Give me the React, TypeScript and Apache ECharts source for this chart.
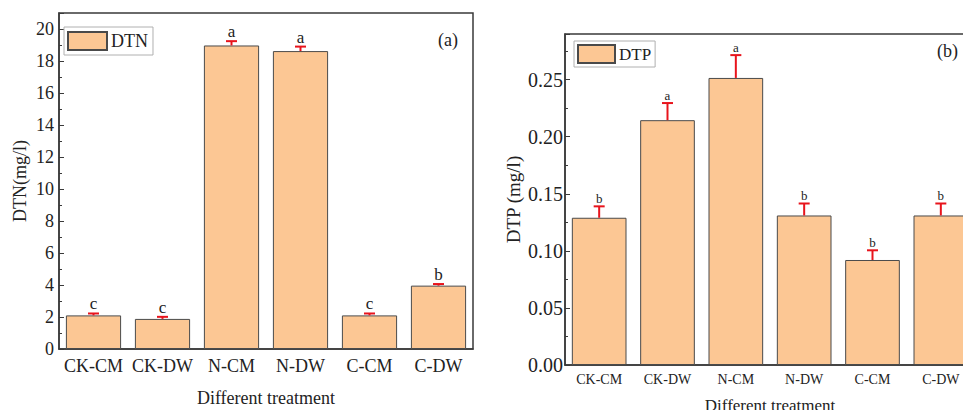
import React, { useEffect, useRef } from "react";
import * as echarts from "echarts";

const categories = ["CK-CM", "CK-DW", "N-CM", "N-DW", "C-CM", "C-DW"];
const dtnValues = [2.1, 1.88, 18.97, 18.62, 2.1, 3.96];
const dtnErrors = [0.12, 0.13, 0.27, 0.28, 0.12, 0.1];
const dtnLetters = ["c", "c", "a", "a", "c", "b"];
const dtpValues = [0.129, 0.2145, 0.2515, 0.131, 0.092, 0.131];
const dtpErrors = [0.01, 0.015, 0.02, 0.0105, 0.0085, 0.0105];
const dtpLetters = ["b", "a", "a", "b", "b", "b"];

const FONT = "Liberation Serif, serif";
const BAR_COLOR = "#FCC794";
const BAR_BORDER = "#4a4a4a";
const AXIS_COLOR = "#3a3a3a";

function errorSeries(values: number[], errors: number[], letters: string[], idx: number, fontSize: number) {
  return {
    type: "custom",
    xAxisIndex: idx,
    yAxisIndex: idx,
    z: 5,
    data: values.map((v, i) => [i, v, errors[i], letters[i]]),
    renderItem: (params: any, api: any) => {
      const i = api.value(0);
      const v = api.value(1);
      const e = api.value(2);
      const base = api.coord([i, v]);
      const top = api.coord([i, v + e]);
      const half = 5.5;
      return {
        type: "group",
        children: [
          {
            type: "line",
            shape: { x1: base[0], y1: base[1], x2: top[0], y2: top[1] },
            style: { stroke: "#e8141c", lineWidth: 2 },
          },
          {
            type: "line",
            shape: { x1: top[0] - half, y1: top[1], x2: top[0] + half, y2: top[1] },
            style: { stroke: "#e8141c", lineWidth: 2 },
          },
          {
            type: "text",
            style: {
              text: letters[i],
              x: top[0],
              y: top[1] - 1,
              align: "center",
              verticalAlign: "bottom",
              fontSize,
              fontFamily: FONT,
              fill: "#222",
            },
          },
        ],
      };
    },
  };
}

export default function App() {
  const ref = useRef<HTMLDivElement>(null);
  useEffect(() => {
    if (!ref.current) return;
    const chart = echarts.init(ref.current, null, { renderer: "svg" });
    const yAxisCommon = (max: number, interval: number, labelSize: number, name: string, nameSize: number, nameGap: number, labelMargin: number, idx: number) => ({
      type: "value",
      gridIndex: idx,
      min: 0,
      max,
      interval,
      name,
      nameLocation: "middle",
      nameGap,
      nameTextStyle: { fontFamily: FONT, fontSize: nameSize, color: "#222" },
      axisLine: { show: true, lineStyle: { color: AXIS_COLOR, width: 1.5 } },
      axisTick: { show: true, inside: true, length: 5, lineStyle: { color: AXIS_COLOR } },
      minorTick: { show: true, splitNumber: 2, length: 3, lineStyle: { color: AXIS_COLOR } },
      splitLine: { show: false },
      axisLabel: {
        showMaxLabel: false,
        margin: labelMargin,
        fontFamily: FONT,
        fontSize: labelSize,
        color: "#222",
        formatter: (v: number) => (idx === 1 ? v.toFixed(2) : String(v)),
      },
    });
    const xAxisCommon = (labelSize: number, nameSize: number, nameGap: number, margin: number, idx: number) => ({
      type: "category",
      gridIndex: idx,
      data: categories,
      name: "Different treatment",
      nameLocation: "middle",
      nameGap,
      nameTextStyle: { fontFamily: FONT, fontSize: nameSize, color: "#222" },
      axisLine: { show: true, lineStyle: { color: AXIS_COLOR, width: 1.5 } },
      axisTick: { show: false },
      axisLabel: { fontFamily: FONT, fontSize: labelSize, color: "#222", margin, interval: 0 },
    });
    chart.setOption({
      animation: false,
      backgroundColor: "#fff",
      textStyle: { fontFamily: FONT },
      grid: [
        { left: 59, top: 13, width: 414, height: 336, outerBoundsMode: "none", containLabel: false, show: true, borderColor: AXIS_COLOR, borderWidth: 1.5, backgroundColor: "transparent" },
        { left: 565, top: 34, width: 410, height: 331, outerBoundsMode: "none", containLabel: false, show: true, borderColor: AXIS_COLOR, borderWidth: 1.5, backgroundColor: "transparent" },
      ],
      xAxis: [xAxisCommon(18, 18, 40, 8, 0), xAxisCommon(14, 17, 32, 7, 1)],
      yAxis: [
        yAxisCommon(21, 2, 18, "DTN(mg/l)", 18, 30, 5, 0),
        yAxisCommon(0.29, 0.05, 20, "DTP (mg/l)", 19, 42, 2, 1),
      ],
      legend: [
        {
          data: ["DTN"],
          left: 64,
          top: 27,
          orient: "vertical",
          padding: [4, 5, 4, 3],
          borderColor: "#b0b0b0",
          borderWidth: 1,
          itemWidth: 39,
          itemHeight: 18,
          itemGap: 4,
          icon: "rect",
          textStyle: { fontFamily: FONT, fontSize: 18, color: "#222", padding: [0, 0, 0, -1] },
        },
        {
          data: ["DTP"],
          left: 574,
          top: 41,
          orient: "vertical",
          padding: [3, 4, 3, 3],
          borderColor: "#b0b0b0",
          borderWidth: 1,
          itemWidth: 37,
          itemHeight: 18,
          itemGap: 4,
          icon: "rect",
          textStyle: { fontFamily: FONT, fontSize: 17, color: "#222", padding: [0, 0, 0, -1] },
        },
      ],
      graphic: [
        { type: "text", left: 438, top: 31, style: { text: "(a)", fontFamily: FONT, fontSize: 18, fill: "#222" } },
        { type: "text", left: 937, top: 42, style: { text: "(b)", fontFamily: FONT, fontSize: 18, fill: "#222" } },
      ],
      series: [
        {
          name: "DTN",
          type: "bar",
          xAxisIndex: 0,
          yAxisIndex: 0,
          data: dtnValues,
          barWidth: "80%",
          itemStyle: { color: BAR_COLOR, borderColor: BAR_BORDER, borderWidth: 1 },
        },
        errorSeries(dtnValues, dtnErrors, dtnLetters, 0, 17),
        {
          name: "DTP",
          type: "bar",
          xAxisIndex: 1,
          yAxisIndex: 1,
          data: dtpValues,
          barWidth: "80%",
          itemStyle: { color: BAR_COLOR, borderColor: BAR_BORDER, borderWidth: 1 },
        },
        errorSeries(dtpValues, dtpErrors, dtpLetters, 1, 13),
      ],
    });
    return () => chart.dispose();
  }, []);
  return <div ref={ref} style={{ width: 963, height: 410, position: "absolute", left: 0, top: 0 }} />;
}
